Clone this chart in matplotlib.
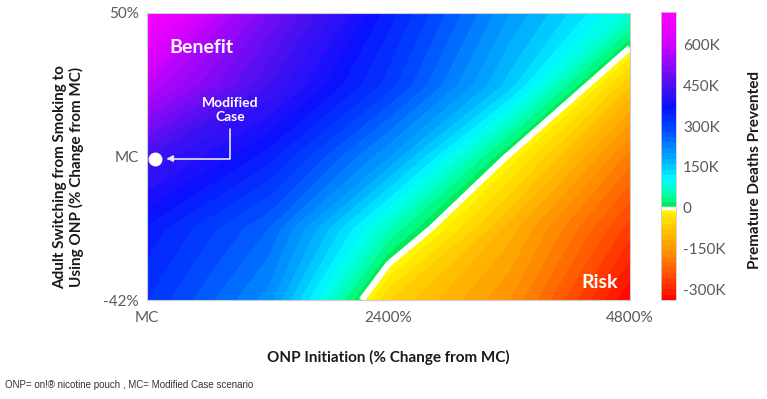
import numpy as np
import matplotlib.pyplot as plt
from matplotlib.colors import LinearSegmentedColormap
from matplotlib.transforms import offset_copy

# ONP initiation (% change from MC) and adult switching (% change from MC)
x_vals = [0, 1200, 2400, 3600, 4800]
y_vals = [-42, -21, 0, 25, 50]

# premature deaths prevented, thousands (rows follow y_vals, columns x_vals)
deaths_k = [
    [320, 210, -60, -160, -340],
    [355, 260, 60, -110, -270],
    [440, 350, 200, -5, -190],
    [580, 440, 310, 150, -80],
    [705, 500, 350, 200, 75],
]

x_ticks = [0, 2400, 4800]
x_ticklabels = ["MC", "2400%", "4800%"]
y_ticks = [-42, 0, 50]
y_ticklabels = ["-42%", "MC", "50%"]
cbar_ticks = [-300, -150, 0, 150, 300, 450, 600]
cbar_ticklabels = ["-300K", "-150K", "0", "150K", "300K", "450K", "600K"]

plt.rcParams["font.family"] = ["Lato", "DejaVu Sans"]

vmin, vmax = -340, 720
anchors = [
    (-340, "#ff0000"), (-250, "#ff5000"), (-150, "#ff9a00"), (-60, "#ffd200"),
    (0, "#ffff00"), (1, "#00e64c"), (40, "#00ff99"), (100, "#00ffff"),
    (170, "#00b4ff"), (300, "#0040ff"), (370, "#0a10ff"), (450, "#4a10f0"),
    (600, "#d000ff"), (720, "#ff00ff"),
]
cmap = LinearSegmentedColormap.from_list(
    "deaths", [((v - vmin) / (vmax - vmin), c) for v, c in anchors])

fig = plt.figure(figsize=(7.67, 3.99), dpi=100)
ax = fig.add_axes([147 / 767, 1 - 300 / 399, 483 / 767, 287 / 399])
cax = fig.add_axes([661 / 767, 1 - 300 / 399, 15 / 767, 288 / 399])

ypos = np.arange(len(y_vals))
Z = np.array(deaths_k, dtype=float)
levels = np.arange(vmin, vmax + 1, 20)

cs = ax.contourf(x_vals, ypos, Z, levels=levels, cmap=cmap, vmin=vmin, vmax=vmax)
ax.contour(x_vals, ypos, Z, levels=[0], colors="white", linewidths=4.5)

ax.set_xlim(x_vals[0], x_vals[-1])
ax.set_ylim(ypos[0], ypos[-1])
ax.set_xticks(x_ticks)
ax.set_xticklabels(x_ticklabels)
ax.set_yticks([y_vals.index(v) for v in y_ticks])
ax.set_yticklabels(y_ticklabels)
ax.tick_params(length=0, labelsize=11, labelcolor="#595959")
ax.tick_params(axis="x", pad=8)
ax.tick_params(axis="y", pad=6)
for s in ax.spines.values():
    s.set_color("#cccccc")
    s.set_linewidth(0.8)

ax.set_xlabel("ONP Initiation (% Change from MC)", fontsize=11, fontweight="bold",
              color="#1a1a1a", labelpad=18)
ax.set_ylabel("Adult Switching from Smoking to\nUsing ONP (% Change from MC)",
              fontsize=11, fontweight="bold", color="#1a1a1a")
ax.yaxis.set_label_coords(-0.13, 0.43)

# labels inside the map
ax.text(0.112, 0.88, "Benefit", transform=ax.transAxes, fontsize=14,
        fontweight="bold", color="white", ha="center", va="center")
ax.text(0.975, 0.03, "Risk", transform=ax.transAxes, fontsize=14,
        fontweight="bold", color="white", ha="right", va="bottom")

# modified case point
mc_y = y_vals.index(0)
dot_tr = offset_copy(ax.transData, fig=fig, x=6, y=-1.5, units="points")
ax.plot([0], [mc_y], "o", color="white", ms=9, transform=dot_tr, clip_on=False)
ax.annotate("Modified\nCase", xy=(0, mc_y), xycoords=dot_tr,
            xytext=(54, 35), textcoords="offset points",
            ha="center", va="center", fontsize=10, fontweight="bold", color="white",
            arrowprops=dict(arrowstyle="-|>", color="#e6e6f5", lw=1.2,
                            connectionstyle="angle,angleA=90,angleB=0,rad=0",
                            shrinkA=2, shrinkB=8, mutation_scale=9))

cbar = fig.colorbar(cs, cax=cax, ticks=cbar_ticks)
cbar.ax.set_yticklabels(cbar_ticklabels)
cbar.ax.tick_params(length=0, labelsize=11, labelcolor="#595959", pad=5)
cbar.outline.set_edgecolor("#cccccc")
cbar.outline.set_linewidth(0.6)
cbar.ax.axhline(0, color="white", lw=2.5)
fig.text(755 / 767, 1 - 170 / 399, "Premature Deaths Prevented", rotation=90,
         ha="center", va="center", fontsize=11, fontweight="bold", color="#1a1a1a")

fig.text(5 / 767, 1 - 385 / 399,
         "ONP= on!\u00ae nicotine pouch , MC= Modified Case scenario",
         fontsize=7, color="#333333", va="center",
         family=["Liberation Sans Narrow", "Liberation Sans", "DejaVu Sans"])

plt.savefig("out.png", dpi=100)
plt.close()
